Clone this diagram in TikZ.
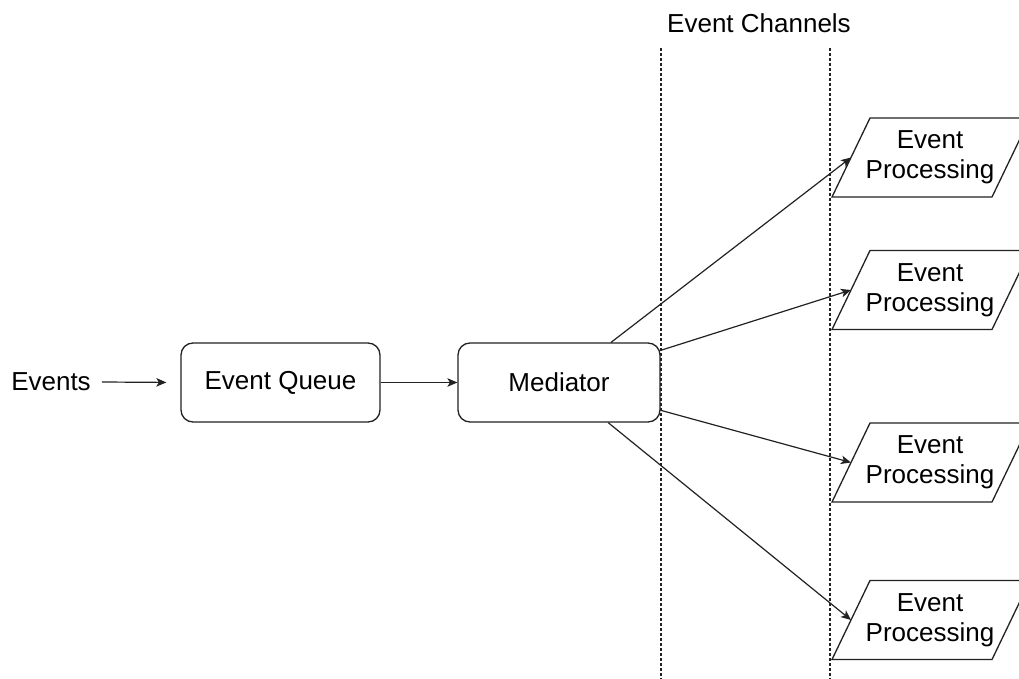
\documentclass[tikz,border=0pt]{standalone}
\usepackage{fontspec}
\setmainfont{Liberation Sans}
\usetikzlibrary{arrows.meta}
\definecolor{linec}{HTML}{222222}
\tikzset{
  txt/.style={font=\fontsize{26}{30}\selectfont, text=black, inner sep=0pt},
  procbox/.style={txt, draw=linec, line width=1.3pt, rounded corners=12pt,
    minimum width=#1, minimum height=79pt},
  arr/.style={draw=linec, line width=1.2pt, -{Stealth[length=10pt,width=8.5pt,inset=2.5pt]}},
  chan/.style={draw=linec, line width=1.2pt, dash pattern=on 3pt off 2pt},
  para/.style={draw=linec, line width=1.3pt, fill=white},
  ptext/.style={txt, align=center}
}
\begin{document}
\begin{tikzpicture}[x=1pt, y=-1pt]
\useasboundingbox (0,0) rectangle (1019,679);
\fill[white] (0,0) rectangle (1019,679);

% event channel separators
\node[txt] (chl) at (759,23) {Event Channels};
\draw[chan] (661,48) -- (661,679);
\draw[chan] (830,48) -- (830,679);

% main nodes
\node[txt, inner xsep=11pt] (ev) at (51,382) {Events};
\node[procbox=199pt] (eq) at (280.5,382.5) {Event Queue};
\node[procbox=202pt] (med) at (559,382.5) {Mediator};

\draw[arr, shorten >=14pt] (ev.east) -- (eq.west);
\draw[arr] (eq) -- (med);

% event processors
\foreach \i/\y in {1/157.5,2/290,3/462.5,4/620} {
  \draw[para] (832,\y+39.5) -- (870,\y-39.5) -- (1030,\y-39.5) -- (992,\y+39.5) -- cycle;
  \node[ptext] (p\i) at (930,\y) {Event\\Processing};
  \coordinate (p\i l) at (851,\y);
}

\draw[arr] (med) -- (p1l);
\draw[arr] (med) -- (p2l);
\draw[arr] (med) -- (p3l);
\draw[arr] (med) -- (p4l);
\end{tikzpicture}
\end{document}
